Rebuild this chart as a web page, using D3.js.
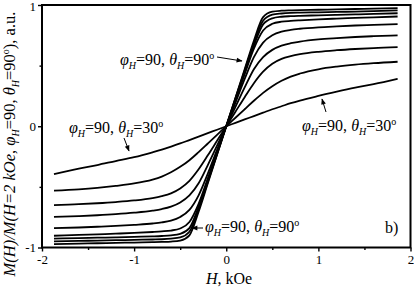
<!DOCTYPE html>
<html>
<head>
<meta charset="utf-8">
<script src="https://cdn.jsdelivr.net/npm/d3@7"></script>
<style>
  body { margin: 0; background: #fff; }
  svg { display: block; }
  svg text { font-family: "Liberation Serif", "Times New Roman"; }
</style>
</head>
<body>
<div class="canvas"></div>
<script>
// field values, kOe
const fieldH = [-1.87, -1.6, -1.4, -1.2, -1.0, -0.8, -0.7, -0.6, -0.5, -0.4, -0.3, -0.2, -0.1,
                0, 0.1, 0.2, 0.3, 0.4, 0.5, 0.6, 0.7, 0.8, 1.0, 1.2, 1.4, 1.6, 1.86];

// normalised magnetisation, bottom curve (theta_H = 30) to top curve (theta_H = 90)
const m1 = [-0.395, -0.35, -0.32, -0.287, -0.255, -0.215, -0.193, -0.168, -0.142, -0.114, -0.086, -0.057, -0.029,
            0, 0.028, 0.056, 0.084, 0.112, 0.14, 0.165, 0.19, 0.212, 0.25, 0.285, 0.318, 0.348, 0.392];
const m2 = [-0.531, -0.52, -0.508, -0.492, -0.472, -0.44, -0.415, -0.38, -0.335, -0.28, -0.213, -0.142, -0.071,
            0, 0.07, 0.14, 0.21, 0.275, 0.33, 0.375, 0.41, 0.435, 0.47, 0.492, 0.508, 0.52, 0.532];
const m3 = [-0.65, -0.643, -0.635, -0.625, -0.612, -0.592, -0.576, -0.553, -0.513, -0.45, -0.355, -0.24, -0.12,
            0, 0.12, 0.24, 0.355, 0.45, 0.515, 0.555, 0.578, 0.594, 0.614, 0.627, 0.637, 0.645, 0.652];
const m4 = [-0.748, -0.741, -0.734, -0.725, -0.713, -0.696, -0.683, -0.663, -0.628, -0.57, -0.47, -0.32, -0.16,
            0, 0.16, 0.32, 0.47, 0.57, 0.63, 0.665, 0.685, 0.698, 0.716, 0.727, 0.736, 0.743, 0.75];
const m5 = [-0.841, -0.835, -0.829, -0.822, -0.813, -0.802, -0.793, -0.778, -0.748, -0.69, -0.57, -0.39, -0.195,
            0, 0.195, 0.39, 0.57, 0.69, 0.75, 0.78, 0.795, 0.804, 0.816, 0.824, 0.831, 0.836, 0.842];
const m6 = [-0.903, -0.896, -0.891, -0.886, -0.88, -0.872, -0.867, -0.86, -0.843, -0.79, -0.64, -0.43, -0.215,
            0, 0.215, 0.43, 0.64, 0.79, 0.845, 0.862, 0.869, 0.874, 0.882, 0.888, 0.893, 0.898, 0.905];
const m7 = [-0.927, -0.922, -0.919, -0.916, -0.912, -0.908, -0.905, -0.9, -0.887, -0.84, -0.665, -0.45, -0.225,
            0, 0.225, 0.45, 0.665, 0.84, 0.89, 0.903, 0.908, 0.911, 0.915, 0.919, 0.922, 0.926, 0.932];
const m8 = [-0.95, -0.946, -0.943, -0.94, -0.937, -0.934, -0.932, -0.927, -0.917, -0.87, -0.685, -0.46, -0.23,
            0, 0.23, 0.46, 0.685, 0.87, 0.92, 0.93, 0.935, 0.937, 0.94, 0.943, 0.946, 0.949, 0.955];
const m9 = [-0.972, -0.968, -0.965, -0.962, -0.959, -0.956, -0.954, -0.951, -0.943, -0.9, -0.705, -0.47, -0.235,
            0, 0.235, 0.47, 0.705, 0.9, 0.945, 0.953, 0.956, 0.958, 0.961, 0.964, 0.967, 0.97, 0.975];
const curves = [m1, m2, m3, m4, m5, m6, m7, m8, m9];

const xTicks = [-2, -1, 0, 1, 2];
const xMinor = [-1.5, -0.5, 0.5, 1.5];
const yTicks = [-1, 0, 1];
const yMinor = [-0.5, 0.5];

const width = 414, height = 289;
const margin = {top: 5, right: 3.5, bottom: 41.5, left: 42};
const graphWidth = width - margin.left - margin.right;
const graphHeight = height - margin.top - margin.bottom;
const serif = '"Liberation Serif", "Times New Roman"';

const svg = d3.select('.canvas')
              .append('svg')
              .attr('width', width)
              .attr('height', height);

const graph = svg.append('g')
                 .attr('transform', `translate(${margin.left}, ${margin.top})`);

const x = d3.scaleLinear().domain([-2, 2]).range([0, graphWidth]);
const y = d3.scaleLinear().domain([-1, 1]).range([graphHeight, 0]);

// curves
const line = d3.line()
               .x(d => x(d[0]))
               .y(d => y(d[1]))
               .curve(d3.curveMonotoneX);

graph.selectAll('path.curve')
     .data(curves)
     .enter()
     .append('path')
     .attr('class', 'curve')
     .attr('d', m => line(fieldH.map((h, i) => [h, m[i]])))
     .attr('fill', 'none')
     .attr('stroke', '#000')
     .attr('stroke-width', 1.8)
     .attr('stroke-linejoin', 'round');

// axes
const styleAxis = g => {
  g.select('.domain').remove();
  g.selectAll('line').attr('stroke', '#000').attr('stroke-width', 1.4);
  g.selectAll('text').attr('fill', '#000')
   .style('font-size', '13px')
   .style('font-family', serif);
};

graph.append('g')
     .attr('transform', `translate(0, ${graphHeight})`)
     .call(d3.axisBottom(x).tickValues(xTicks).tickSize(4).tickPadding(3).tickFormat(d => String(d)))
     .call(styleAxis);
graph.append('g')
     .attr('transform', `translate(0, ${graphHeight})`)
     .call(d3.axisBottom(x).tickValues(xMinor).tickSize(2.5).tickFormat(''))
     .call(styleAxis);
const yAxisGroup = graph.append('g')
     .call(d3.axisLeft(y).tickValues(yTicks).tickSize(4).tickPadding(2).tickFormat(d => String(d)))
     .call(styleAxis);
// keep the top label inside the picture
yAxisGroup.selectAll('.tick text').filter(d => d === 1).attr('dy', '0.45em');
graph.append('g')
     .call(d3.axisLeft(y).tickValues(yMinor).tickSize(2.5).tickFormat(''))
     .call(styleAxis);

// frame
graph.append('rect')
     .attr('x', 0).attr('y', 0)
     .attr('width', graphWidth).attr('height', graphHeight)
     .attr('fill', 'none')
     .attr('stroke', '#000')
     .attr('stroke-width', 2);

// arrow marker
svg.append('defs').append('marker')
   .attr('id', 'head')
   .attr('viewBox', '0 0 10 10')
   .attr('refX', 9).attr('refY', 5)
   .attr('markerWidth', 7).attr('markerHeight', 6)
   .attr('markerUnits', 'userSpaceOnUse')
   .attr('orient', 'auto')
   .append('path')
   .attr('d', 'M0,1 L10,5 L0,9 Z')
   .attr('fill', '#000');

// label: phi_H=90, theta_H=xx
const label = (px, py, theta) => {
  const t = svg.append('text')
               .attr('x', px).attr('y', py)
               .style('font-size', '16px')
               .style('font-family', serif)
               .attr('fill', '#000');
  t.append('tspan').style('font-style', 'italic').text('φ');
  t.append('tspan').style('font-style', 'italic').style('font-size', '10px').attr('dy', 4).text('H');
  t.append('tspan').attr('dy', -4).text('=90, ');
  t.append('tspan').style('font-style', 'italic').text('θ');
  t.append('tspan').style('font-style', 'italic').style('font-size', '10px').attr('dy', 4).text('H');
  t.append('tspan').attr('dy', -4).text('=' + theta);
  t.append('tspan').style('font-size', '10px').attr('dy', -6).text('o');
};

const arrow = (x1, y1, x2, y2) => {
  svg.append('line')
     .attr('x1', x1).attr('y1', y1).attr('x2', x2).attr('y2', y2)
     .attr('stroke', '#000').attr('stroke-width', 1)
     .attr('marker-end', 'url(#head)');
};

label(120, 65, 90);
arrow(217, 57, 242, 61);
label(69, 133, 30);
arrow(124, 138, 129, 151);
label(302, 131, 30);
arrow(326, 112, 322, 99);
label(205, 232, 90);
arrow(203, 228, 192, 228);

svg.append('text')
   .attr('x', 385).attr('y', 233)
   .style('font-size', '16px')
   .style('font-family', serif)
   .text('b)');

// axis titles
const xTitle = svg.append('text')
                  .attr('x', 229).attr('y', 284)
                  .attr('text-anchor', 'middle')
                  .style('font-size', '16px')
                  .style('font-family', serif);
xTitle.append('tspan').style('font-style', 'italic').text('H');
xTitle.append('tspan').text(', kOe');

const yTitle = svg.append('text')
                  .attr('transform', 'translate(15, 144) rotate(-90)')
                  .attr('text-anchor', 'middle')
                  .style('font-size', '16.5px')
                  .style('font-family', serif);
yTitle.append('tspan').style('font-style', 'italic').text('M(H)/M(H=2 kOe, φ');
yTitle.append('tspan').style('font-style', 'italic').style('font-size', '10px').attr('dy', 4).text('H');
yTitle.append('tspan').attr('dy', -4).text('=90, ');
yTitle.append('tspan').style('font-style', 'italic').text('θ');
yTitle.append('tspan').style('font-style', 'italic').style('font-size', '10px').attr('dy', 4).text('H');
yTitle.append('tspan').attr('dy', -4).text('=90');
yTitle.append('tspan').style('font-size', '10px').attr('dy', -6).text('o');
yTitle.append('tspan').attr('dy', 6).text('), a.u.');
</script>
</body>
</html>
